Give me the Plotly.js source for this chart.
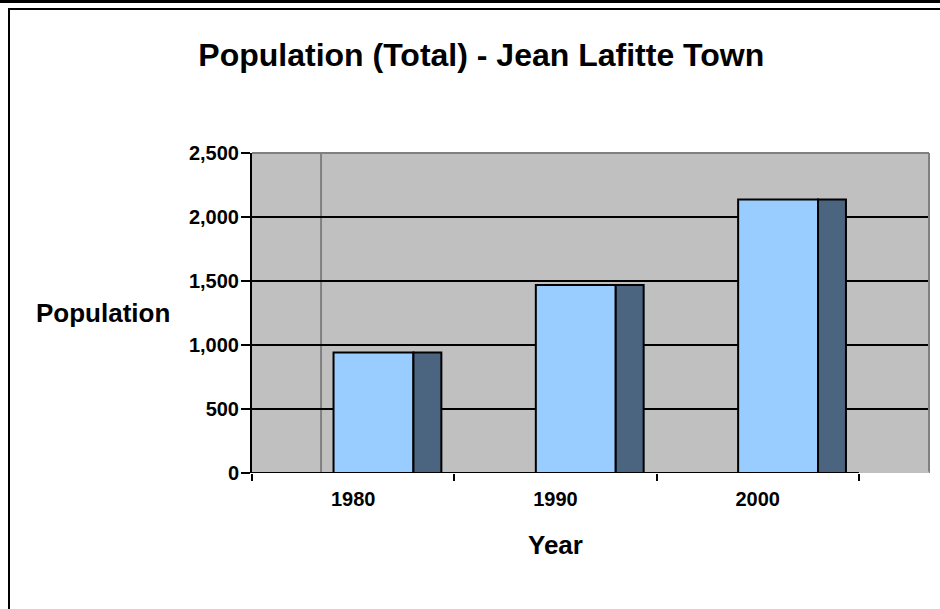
<!DOCTYPE html>
<html>
<head>
<meta charset="utf-8">
<script src="https://cdn.plot.ly/plotly-3.0.1.min.js"></script>
<style>
  html, body { margin: 0; padding: 0; background: #ffffff; }
  #wrap { position: relative; width: 940px; height: 609px; overflow: hidden; }
  #chart { position: absolute; left: 0; top: 0; width: 940px; height: 609px; }
  #topbar { position: absolute; left: 0; top: 0; width: 940px; height: 3px; background: #000; pointer-events: none; }
  #frame { position: absolute; left: 8px; top: 8px; width: 940px; height: 620px; border-top: 2px solid #000; border-left: 2px solid #000; pointer-events: none; }
</style>
</head>
<body>
<div id="wrap">
  <div id="chart"></div>
  <div id="topbar"></div>
  <div id="frame"></div>
</div>
<script>
// ---- data ----
var years = ['1980', '1990', '2000'];
var population = [941, 1469, 2137];
var yTicks = [0, 500, 1000, 1500, 2000, 2500];
var yTickText = ['0', '500', '1,000', '1,500', '2,000', '2,500'];

var FONT = 'Arial, "Liberation Sans", Helvetica, sans-serif';

var front = {
  type: 'bar',
  x: years,
  y: population,
  width: 0.395,
  offset: -0.097,
  marker: { color: '#99CCFF', line: { color: '#000000', width: 2 } },
  hoverinfo: 'skip',
  showlegend: false
};
var side = {
  type: 'bar',
  x: years,
  y: population,
  width: 0.138,
  offset: 0.298,
  marker: { color: '#4B6580', line: { color: '#000000', width: 2 } },
  hoverinfo: 'skip',
  showlegend: false
};

var xMax = -0.5 + 677 / 202.3;

var layout = {
  width: 940,
  height: 609,
  margin: { l: 252, r: 11, t: 153, b: 136, pad: 0 },
  paper_bgcolor: '#ffffff',
  plot_bgcolor: '#C0C0C0',
  barmode: 'overlay',
  showlegend: false,
  title: {
    text: 'Population (Total) - Jean Lafitte Town',
    font: { family: FONT, size: 32, color: '#000000', weight: 'bold' },
    xref: 'container', x: 0.512, xanchor: 'center',
    yref: 'container', y: 0.91, yanchor: 'middle'
  },
  xaxis: {
    type: 'category',
    categoryorder: 'array',
    categoryarray: years,
    range: [-0.5, xMax],
    tickson: 'boundaries',
    ticks: 'outside',
    ticklen: 7,
    tickwidth: 2,
    tickcolor: '#000000',
    ticklabelstandoff: 12,
    showline: false,
    showgrid: false,
    zeroline: false,
    tickfont: { family: FONT, size: 20, color: '#000000', weight: 'bold' },
    fixedrange: true
  },
  yaxis: {
    range: [0, 2500],
    tickvals: yTicks,
    ticktext: yTickText,
    ticks: 'outside',
    ticklen: 9,
    tickwidth: 2,
    tickcolor: '#000000',
    ticklabelstandoff: -2,
    showline: true,
    linecolor: '#000000',
    linewidth: 2,
    showgrid: true,
    gridcolor: '#000000',
    gridwidth: 1.5,
    zeroline: false,
    tickfont: { family: FONT, size: 20, color: '#000000', weight: 'bold' },
    fixedrange: true
  },
  shapes: [
    // back-wall edge
    { type: 'line', layer: 'below', xref: 'paper', yref: 'paper', x0: 0.102, x1: 0.102, y0: 0, y1: 1,
      line: { color: '#808080', width: 2 } },
    // plot area border (top, right)
    { type: 'line', layer: 'above', xref: 'paper', yref: 'paper', x0: 0, x1: 1, y0: 1, y1: 1,
      line: { color: '#808080', width: 2 } },
    { type: 'line', layer: 'above', xref: 'paper', yref: 'paper', x0: 1, x1: 1, y0: 0, y1: 1,
      line: { color: '#808080', width: 2 } },
    // cover zero gridline beyond the category axis
    { type: 'line', layer: 'above', xref: 'x', yref: 'y', x0: 2.5, x1: xMax, y0: 0, y1: 0,
      line: { color: '#C0C0C0', width: 3 } },
    // category axis line
    { type: 'line', layer: 'above', xref: 'x', yref: 'y', x0: -0.5, x1: 2.5, y0: 0, y1: 0,
      line: { color: '#000000', width: 2 } }
  ],
  annotations: [
    { text: 'Population', xref: 'paper', yref: 'paper', x: -0.118, y: 0.5,
      xanchor: 'right', yanchor: 'middle', showarrow: false,
      font: { family: FONT, size: 26, color: '#000000', weight: 'bold' } },
    { text: 'Year', xref: 'x', yref: 'paper', x: 1, y: -0.225,
      xanchor: 'center', yanchor: 'middle', showarrow: false,
      font: { family: FONT, size: 26, color: '#000000', weight: 'bold' } }
  ]
};

Plotly.newPlot('chart', [front, side], layout, { staticPlot: true, displayModeBar: false });
</script>
</body>
</html>
